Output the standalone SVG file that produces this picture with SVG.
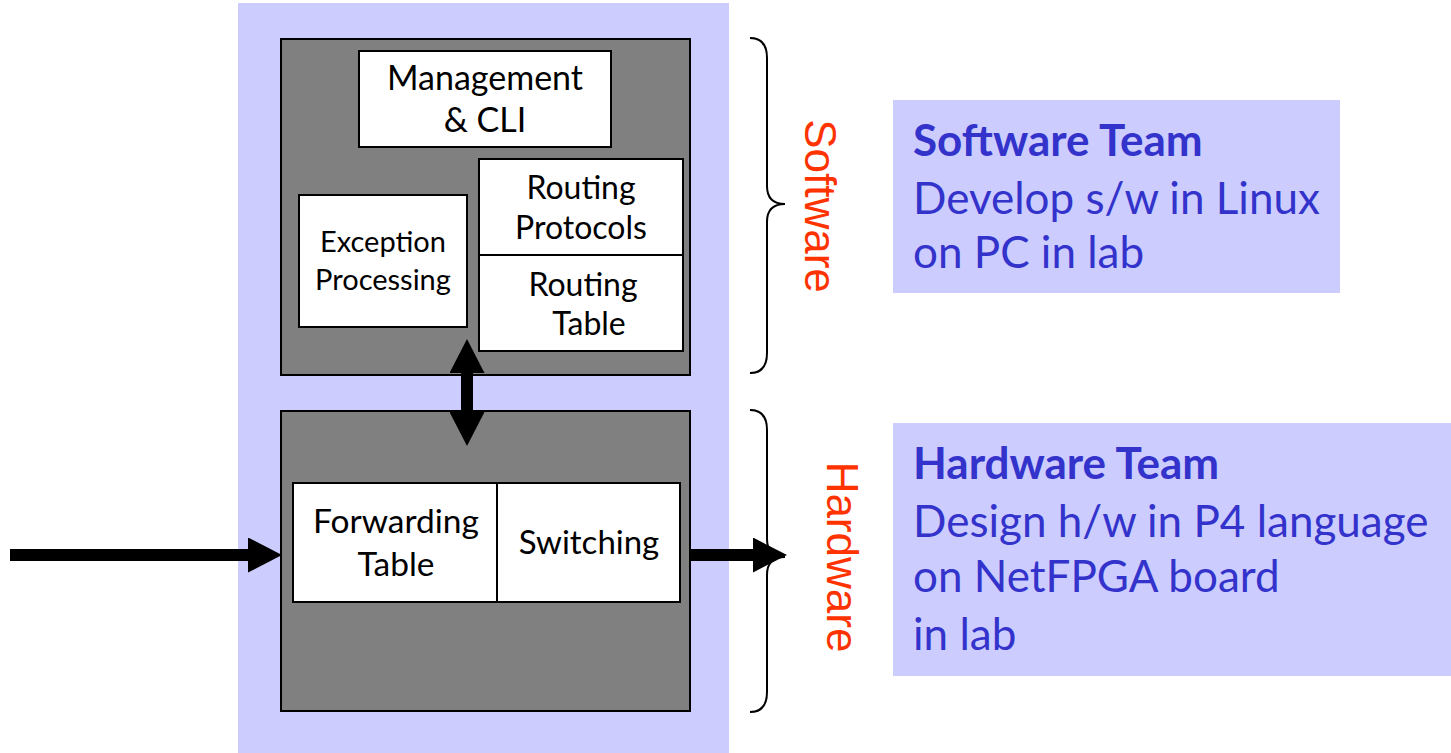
<svg xmlns="http://www.w3.org/2000/svg" width="1451" height="753" viewBox="0 0 1451 753">
<style>
.panel{fill:#CCCCFF}
.gray{fill:#808080;stroke:#000;stroke-width:2}
.wbox{fill:#fff;stroke:#000;stroke-width:2}
.lbl{font-family:Lato,"Liberation Sans",sans-serif;fill:#000;text-anchor:middle}
.side{font-family:"Liberation Sans",Arial,sans-serif;font-size:44px;fill:#FF3300;text-anchor:middle}
.team{font-family:Lato,"Liberation Sans",sans-serif;font-size:44px;fill:#3333CC}
.brace{fill:none;stroke:#000;stroke-width:2}
.conn{stroke:#000;stroke-width:12;fill:none}
</style>
<defs>
<marker id="ah" markerUnits="userSpaceOnUse" viewBox="0 0 34 35" markerWidth="34" markerHeight="35" refX="0" refY="17.5" orient="auto-start-reverse">
<path d="M0,0 L34,17.5 L0,35 z" fill="#000"/>
</marker>
</defs>
<rect class="panel" x="238" y="3" width="491" height="750"/>
<g id="software-block">
<rect class="gray" x="281" y="39" width="409" height="336"/>
</g>
<g id="management-cli">
<rect class="wbox" x="359" y="51" width="252" height="96"/>
<text class="lbl" font-size="34" x="485" y="90">Management</text>
<text class="lbl" font-size="34" x="485" y="132">&amp; CLI</text>
</g>
<g id="exception-processing">
<rect class="wbox" x="299" y="195" width="168" height="132"/>
<text class="lbl" font-size="29" x="383" y="252">Exception</text>
<text class="lbl" font-size="29" x="383" y="290">Processing</text>
</g>
<g id="routing-protocols">
<rect class="wbox" x="479" y="159" width="204" height="96"/>
<text class="lbl" font-size="32" x="581" y="199">Routing</text>
<text class="lbl" font-size="32" x="581" y="239">Protocols</text>
</g>
<g id="routing-table">
<rect class="wbox" x="479" y="255" width="204" height="96"/>
<text class="lbl" font-size="32" x="583" y="296">Routing</text>
<text class="lbl" font-size="32" x="589" y="335">Table</text>
</g>
<g id="hardware-block">
<rect class="gray" x="281" y="411" width="409" height="300"/>
</g>
<g id="forwarding-table">
<rect class="wbox" x="293" y="483" width="204" height="119"/>
<text class="lbl" font-size="33.5" x="396" y="533">Forwarding</text>
<text class="lbl" font-size="33.5" x="396" y="576">Table</text>
</g>
<g id="switching">
<rect class="wbox" x="497" y="483" width="183" height="119"/>
<text class="lbl" font-size="33" x="589" y="554">Switching</text>
</g>
<g id="connectors">
<line class="conn" x1="467" y1="373" x2="467" y2="412" marker-start="url(#ah)" marker-end="url(#ah)"/>
<line class="conn" x1="10" y1="555" x2="248" y2="555" marker-end="url(#ah)"/>
<line class="conn" x1="690" y1="555" x2="753" y2="555" marker-end="url(#ah)"/>
</g>
<g id="software-brace">
<path class="brace" d="M750,38 Q767,38 767,58 L767,186 Q767,204 785,204 Q767,204 767,222 L767,353 Q767,373 750,373"/>
<text class="side" transform="translate(805,206) rotate(90)">Software</text>
</g>
<g id="hardware-brace">
<path class="brace" d="M750,410 Q767,410 767,430 L767,539 Q767,557 785,557 Q767,557 767,575 L767,692 Q767,712 750,712"/>
<text class="side" transform="translate(827,557) rotate(90)">Hardware</text>
</g>
<g id="software-team">
<rect class="panel" x="893" y="100" width="447" height="193"/>
<text class="team" x="913" y="156" font-weight="bold">Software Team</text>
<text class="team" x="913" y="214">Develop s/w in Linux</text>
<text class="team" x="913" y="268">on PC in lab</text>
</g>
<g id="hardware-team">
<rect class="panel" x="893" y="423" width="558" height="253"/>
<text class="team" x="913" y="479" font-weight="bold">Hardware Team</text>
<text class="team" x="913" y="537">Design h/w in P4 language</text>
<text class="team" x="913" y="592">on NetFPGA board</text>
<text class="team" x="913" y="650">in lab</text>
</g>
</svg>
